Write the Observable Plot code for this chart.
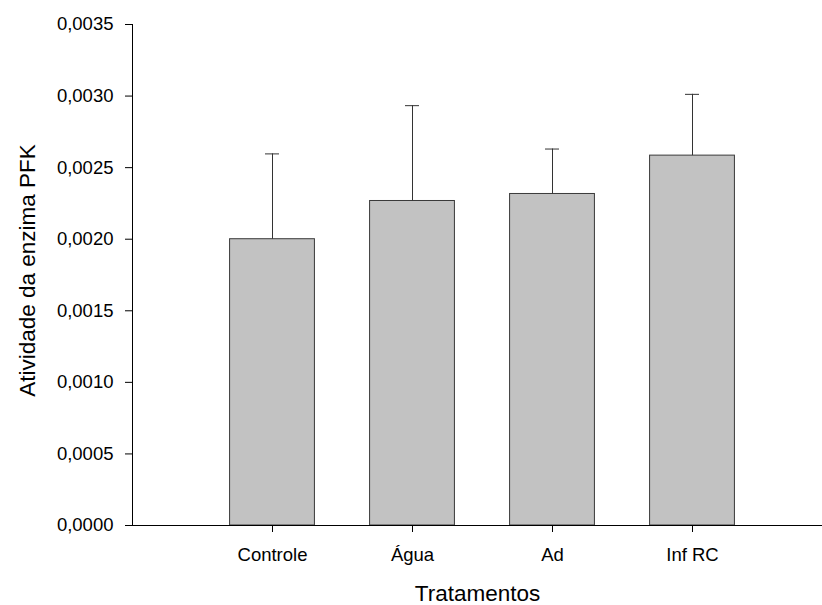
<!DOCTYPE html>
<html>
<head>
<meta charset="utf-8">
<script src="https://cdn.jsdelivr.net/npm/d3@7"></script>
<script src="https://cdn.jsdelivr.net/npm/@observablehq/plot@0.6"></script>
<style>
  html, body { margin: 0; padding: 0; background: #fff; }
  #chart svg { display: block; }
</style>
</head>
<body>
<div id="chart"></div>
<script>
const categories = ["Controle", "Água", "Ad", "Inf RC"];
const means = [0.00200, 0.002267, 0.002316, 0.002584];
const upper = [0.002596, 0.002933, 0.00263, 0.003012];
const yTicks = [0, 0.0005, 0.0010, 0.0015, 0.0020, 0.0025, 0.0030, 0.0035];
const xTitle = "Tratamentos";
const yTitle = "Atividade da enzima PFK";

const data = categories.map((c, i) => ({cat: c, pos: i + 1, mean: means[i], hi: upper[i]}));
const half = 0.303;
const cap = 0.05;
const fmt = d => d.toFixed(4).replace(".", ",");

const chart = Plot.plot({
  width: 822,
  height: 605,
  marginLeft: 132,
  marginRight: 0,
  marginTop: 24,
  marginBottom: 80,
  style: {fontFamily: "'Liberation Sans', Arial, sans-serif", color: "#000", background: "#fff"},
  x: {type: "linear", domain: [0, 690 / 140], axis: null},
  y: {domain: [0, 0.0035], axis: null},
  marks: [
    Plot.rectY(data, {x1: d => d.pos - half, x2: d => d.pos + half, y1: 0, y2: "mean", fill: "#c2c2c2", stroke: "#3a3a3a", strokeWidth: 1}),
    Plot.ruleX(data, {x: "pos", y1: "mean", y2: "hi", stroke: "#333", strokeWidth: 1}),
    Plot.ruleY(data, {y: "hi", x1: d => d.pos - cap, x2: d => d.pos + cap, stroke: "#333", strokeWidth: 1}),
    Plot.axisY({ticks: yTicks, tickFormat: fmt, tickSize: 7, tickPadding: 12, fontSize: 18.5, label: null}),
    Plot.axisX({ticks: data.map(d => d.pos), tickFormat: i => categories[i - 1], tickSize: 7, tickPadding: 15, fontSize: 18.5, label: null}),
    Plot.ruleY([0], {stroke: "#000", strokeWidth: 1}),
    Plot.ruleX([0], {stroke: "#000", strokeWidth: 1}),
    Plot.text([xTitle], {frameAnchor: "bottom", text: d => d, textAnchor: "middle", lineAnchor: "middle", dy: 68, fontSize: 22.5, fill: "#000"}),
    Plot.text([yTitle], {frameAnchor: "left", text: d => d, textAnchor: "middle", lineAnchor: "middle", rotate: -90, dx: -105, dy: -4.5, fontSize: 22.5, fill: "#000"})
  ]
});
document.getElementById("chart").appendChild(chart);
</script>
</body>
</html>
